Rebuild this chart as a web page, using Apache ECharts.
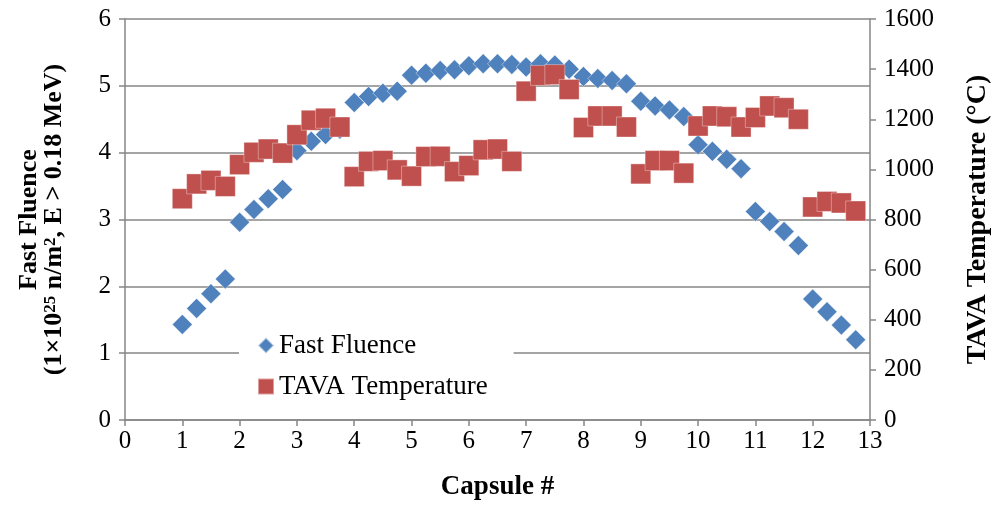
<!DOCTYPE html>
<html>
<head>
<meta charset="utf-8">
<script src="https://cdn.jsdelivr.net/npm/echarts@6/dist/echarts.min.js"></script>
<style>
  html, body { margin: 0; padding: 0; background: #fff; }
  #chart { width: 1000px; height: 506px; }
</style>
</head>
<body>
<div id="chart"></div>
<script>
// capsule position (x) for each measurement
const capsulePos = [
  1, 1.25, 1.5, 1.75, 2, 2.25, 2.5, 2.75, 3, 3.25, 3.5, 3.75,
  4, 4.25, 4.5, 4.75, 5, 5.25, 5.5, 5.75, 6, 6.25, 6.5, 6.75,
  7, 7.25, 7.5, 7.75, 8, 8.25, 8.5, 8.75, 9, 9.25, 9.5, 9.75,
  10, 10.25, 10.5, 10.75, 11, 11.25, 11.5, 11.75, 12, 12.25, 12.5, 12.75
];

// fast fluence, 1e25 n/m^2 (left axis)
const fastFluence = [
  1.43, 1.67, 1.89, 2.11, 2.96, 3.15, 3.31, 3.45, 4.03, 4.17, 4.27, 4.35,
  4.75, 4.84, 4.89, 4.92, 5.16, 5.19, 5.23, 5.24, 5.30, 5.33, 5.33, 5.32,
  5.28, 5.33, 5.31, 5.25, 5.14, 5.11, 5.08, 5.03, 4.77, 4.70, 4.64, 4.54,
  4.12, 4.02, 3.90, 3.76, 3.12, 2.97, 2.82, 2.61, 1.81, 1.62, 1.42, 1.20
];

// TAVA temperature, deg C (right axis)
const tavaTemp = [
  883, 942, 956, 932, 1019, 1068, 1081, 1065, 1138, 1196, 1204, 1169,
  971, 1032, 1035, 998, 973, 1051, 1052, 991, 1015, 1078, 1081, 1032,
  1312, 1375, 1378, 1319, 1167, 1213, 1213, 1169, 982, 1035, 1035, 985,
  1173, 1213, 1210, 1169, 1207, 1253, 1246, 1200, 850, 872, 866, 834
];

const xTicks = { min: 0, max: 13, interval: 1 };
const leftTicks = { min: 0, max: 6, interval: 1 };
const rightTicks = { min: 0, max: 1600, interval: 200 };

const FONT = '"Liberation Serif", "Times New Roman", serif';
const AXIS_GRAY = '#868686';

const myChart = echarts.init(document.getElementById('chart'));

function pairs(xs, ys) {
  return xs.map((x, i) => [x, ys[i]]);
}

const option = {
  backgroundColor: '#fff',
  animation: false,
  textStyle: { fontFamily: FONT, color: '#000' },
  grid: { left: 125, right: 124, top: 19, bottom: 83 },
  legend: {
    orient: 'vertical',
    left: 239,
    top: 326,
    padding: [6, 26, 8, 18],
    backgroundColor: '#fff',
    itemWidth: 16,
    itemHeight: 16,
    itemGap: 14,
    textStyle: { fontFamily: FONT, fontSize: 27, color: '#000', lineHeight: 27 },
    data: [
      { name: 'Fast Fluence', icon: 'diamond' },
      { name: 'TAVA Temperature', icon: 'rect' }
    ]
  },
  xAxis: {
    type: 'value',
    min: xTicks.min,
    max: xTicks.max,
    interval: xTicks.interval,
    name: 'Capsule #',
    nameLocation: 'middle',
    nameGap: 54,
    nameTextStyle: { fontFamily: FONT, fontSize: 27, fontWeight: 'bold', color: '#000' },
    axisLine: { onZero: false, lineStyle: { color: AXIS_GRAY, width: 1.5 } },
    axisTick: { show: true, length: 6, lineStyle: { color: AXIS_GRAY, width: 1.5 } },
    axisLabel: { fontFamily: FONT, fontSize: 25, color: '#000', margin: 9 },
    splitLine: { show: false }
  },
  yAxis: [
    {
      type: 'value',
      position: 'left',
      min: leftTicks.min,
      max: leftTicks.max,
      interval: leftTicks.interval,
      name: '{b|Fast Fluence}\n{b|(1×10}{sup|25}{b| n/m}{sup|2}{b|, E > 0.18 MeV)}',
      nameLocation: 'middle',
      nameRotate: 90,
      nameGap: 58,
      nameTextStyle: {
        fontFamily: FONT,
        color: '#000',
        rich: {
          b: { fontFamily: FONT, fontSize: 26, fontWeight: 'bold', color: '#000', lineHeight: 25 },
          sup: { fontFamily: FONT, fontSize: 17, fontWeight: 'bold', color: '#000', verticalAlign: 'top', lineHeight: 25, padding: [0, 0, 10, 0] }
        }
      },
      axisLine: { show: true, lineStyle: { color: AXIS_GRAY, width: 1.5 } },
      axisTick: { show: true, length: 6, lineStyle: { color: AXIS_GRAY, width: 1.5 } },
      axisLabel: { fontFamily: FONT, fontSize: 25, color: '#000', margin: 14 },
      splitLine: { show: true, lineStyle: { color: AXIS_GRAY, width: 1.5 } }
    },
    {
      type: 'value',
      position: 'right',
      min: rightTicks.min,
      max: rightTicks.max,
      interval: rightTicks.interval,
      name: 'TAVA Temperature (°C)',
      nameLocation: 'middle',
      nameRotate: 90,
      nameGap: 94,
      nameTextStyle: { fontFamily: FONT, fontSize: 28, fontWeight: 'bold', color: '#000' },
      axisLine: { show: true, lineStyle: { color: AXIS_GRAY, width: 1.5 } },
      axisTick: { show: true, length: 6, lineStyle: { color: AXIS_GRAY, width: 1.5 } },
      axisLabel: {
        fontFamily: FONT, fontSize: 25, color: '#000', margin: 14,
        formatter: (v) => String(v)
      },
      splitLine: { show: false }
    }
  ],
  series: [
    {
      name: 'Fast Fluence',
      type: 'scatter',
      yAxisIndex: 0,
      symbol: 'diamond',
      symbolSize: 20,
      itemStyle: { color: '#4F81BD', opacity: 1, borderColor: 'rgba(255,255,255,0.55)', borderWidth: 0.8 },
      data: pairs(capsulePos, fastFluence)
    },
    {
      name: 'TAVA Temperature',
      type: 'scatter',
      yAxisIndex: 1,
      symbol: 'rect',
      symbolSize: 20,
      itemStyle: { color: '#C0504D', opacity: 1, borderColor: 'rgba(255,255,255,0.45)', borderWidth: 0.8 },
      data: pairs(capsulePos, tavaTemp)
    }
  ]
};

myChart.setOption(option);
window.addEventListener('resize', myChart.resize);
</script>
</body>
</html>
